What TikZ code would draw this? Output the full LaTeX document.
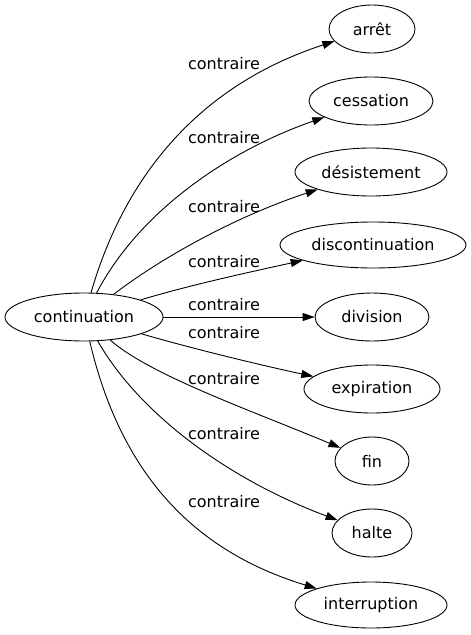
\documentclass[tikz,border=0pt]{standalone}
\usepackage{fontspec}
\setmainfont{DejaVu Sans}
\usetikzlibrary{shapes.geometric,arrows.meta}
\tikzset{
  nd/.style={draw,ellipse,inner sep=0pt,line width=0.9pt,font=\fontsize{16}{19}\selectfont},
  edge/.style={line width=0.9pt,-{Triangle[length=12pt,width=8pt]}},
  lbl/.style={font=\fontsize{16}{19}\selectfont,inner sep=0pt}
}
\begin{document}
\begin{tikzpicture}[x=1pt,y=-1pt]
\useasboundingbox (0,0) rectangle (471,635);
\node[nd,minimum width=158pt,minimum height=48pt] (c) at (84,317) {continuation};
\node[nd,minimum width=86pt,minimum height=48pt] (arret) at (372,29) {arrêt};
\node[nd,minimum width=124pt,minimum height=48pt] (cess) at (371,101) {cessation};
\node[nd,minimum width=152pt,minimum height=48pt] (des) at (371,172) {désistement};
\node[nd,minimum width=186pt,minimum height=46pt] (disc) at (373,245) {discontinuation};
\node[nd,minimum width=114pt,minimum height=48pt] (div) at (372,317) {division};
\node[nd,minimum width=136pt,minimum height=48pt] (exp) at (372,389) {expiration};
\node[nd,minimum width=74pt,minimum height=48pt] (fin) at (372,461) {fin};
\node[nd,minimum width=80pt,minimum height=48pt] (halte) at (372,533) {halte};
\node[nd,minimum width=152pt,minimum height=46pt] (int) at (371,605) {interruption};

\draw[edge] (c) .. controls (125,175) and (200,85) .. (arret);
\draw[edge] (c) .. controls (140,210) and (230,150) .. (cess);
\draw[edge] (c) .. controls (165,255) and (240,215) .. (des);
\draw[edge] (c) .. controls (190,285) and (250,272) .. (disc);
\draw[edge] (c) -- (div);
\draw[edge] (c) .. controls (190,348) and (260,365) .. (exp);
\draw[edge] (c) .. controls (150,375) and (250,410) .. (fin);
\draw[edge] (c) .. controls (140,415) and (230,480) .. (halte);
\draw[edge] (c) .. controls (120,470) and (190,550) .. (int);

\node[lbl] (l1) at (224,64) {contraire};
\node[lbl] (l2) at (224,138) {contraire};
\node[lbl] (l3) at (224,207) {contraire};
\node[lbl] (l4) at (224,262) {contraire};
\node[lbl] (l5) at (224,305) {contraire};
\node[lbl] (l6) at (224,333) {contraire};
\node[lbl] (l7) at (224,379) {contraire};
\node[lbl] (l8) at (224,434) {contraire};
\node[lbl] (l9) at (224,502) {contraire};
\end{tikzpicture}
\end{document}
